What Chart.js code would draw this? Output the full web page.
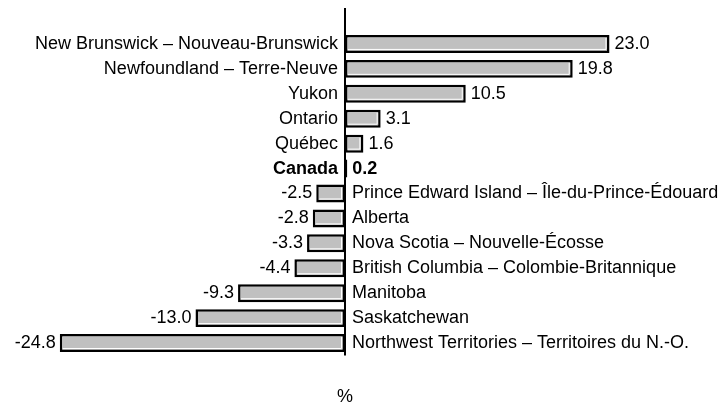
<!DOCTYPE html>
<html>
<head>
<meta charset="utf-8">
<script src="https://cdn.jsdelivr.net/npm/chart.js@4"></script>
<style>
  html, body { margin:0; padding:0; background:#fff; }
  #wrap { width:719px; height:409px; position:relative; }
</style>
</head>
<body>
<div id="wrap"><canvas id="chart"></canvas></div>
<script>
const categories = [
  'New Brunswick – Nouveau-Brunswick',
  'Newfoundland – Terre-Neuve',
  'Yukon',
  'Ontario',
  'Québec',
  'Canada',
  'Prince Edward Island – Île-du-Prince-Édouard',
  'Alberta',
  'Nova Scotia – Nouvelle-Écosse',
  'British Columbia – Colombie-Britannique',
  'Manitoba',
  'Saskatchewan',
  'Northwest Territories – Territoires du N.-O.'
];
const values = [23.0, 19.8, 10.5, 3.1, 1.6, 0.2, -2.5, -2.8, -3.3, -4.4, -9.3, -13.0, -24.8];
const boldCategory = 'Canada';
const unitLabel = '%';

const FONT = '"Liberation Sans", Arial, sans-serif';

const labelPlugin = {
  id: 'labels',
  afterDatasetsDraw(chart) {
    const ctx = chart.ctx;
    const meta = chart.getDatasetMeta(0);
    const x0 = chart.scales.x.getPixelForValue(0);
    ctx.save();
    // white inner highlight on bars
    meta.data.forEach((bar, i) => {
      const left = Math.min(bar.x, bar.base), right = Math.max(bar.x, bar.base);
      const top = bar.y - bar.height / 2, bottom = bar.y + bar.height / 2;
      if (right - left < 8) return;
      ctx.strokeStyle = '#fff';
      ctx.lineWidth = 1;
      ctx.beginPath();
      ctx.moveTo(left + 3, bottom - 3.5);
      ctx.lineTo(right - 3.5, bottom - 3.5);
      ctx.lineTo(right - 3.5, top + 3);
      ctx.stroke();
    });
    // axis line
    ctx.strokeStyle = '#000';
    ctx.lineWidth = 2;
    ctx.beginPath();
    ctx.moveTo(x0, 8);
    ctx.lineTo(x0, chart.chartArea.bottom);
    ctx.stroke();
    // text labels
    ctx.fillStyle = '#000';
    ctx.textBaseline = 'middle';
    meta.data.forEach((bar, i) => {
      const v = values[i];
      const bold = categories[i] === boldCategory;
      ctx.font = (bold ? 'bold ' : '') + '18px ' + FONT;
      const txt = v.toFixed(1);
      if (v >= 0) {
        ctx.textAlign = 'right';
        ctx.fillText(categories[i], x0 - 7, bar.y);
        ctx.textAlign = 'left';
        ctx.fillText(txt, bar.x + 5, bar.y);
      } else {
        ctx.textAlign = 'left';
        ctx.fillText(categories[i], x0 + 7, bar.y);
        ctx.textAlign = 'right';
        ctx.fillText(txt, bar.x - 4, bar.y);
      }
    });
    ctx.font = '18px ' + FONT;
    ctx.textAlign = 'center';
    ctx.fillText(unitLabel, x0, 397);
    ctx.restore();
  }
};

new Chart(document.getElementById('chart'), {
  type: 'bar',
  data: {
    labels: categories,
    datasets: [{
      data: values,
      backgroundColor: '#c0c0c0',
      borderColor: '#000',
      borderWidth: 2.5,
      borderSkipped: false,
      categoryPercentage: 1,
      barPercentage: 0.72
    }]
  },
  options: {
    indexAxis: 'y',
    responsive: true,
    maintainAspectRatio: false,
    animation: false,
    layout: { padding: { left: 57.5, right: 86.5, top: 31.5, bottom: 53.5 } },
    plugins: { legend: { display: false }, tooltip: { enabled: false } },
    scales: {
      x: { min: -25, max: 25, display: false },
      y: { display: false }
    }
  },
  plugins: [labelPlugin]
});
</script>
</body>
</html>
